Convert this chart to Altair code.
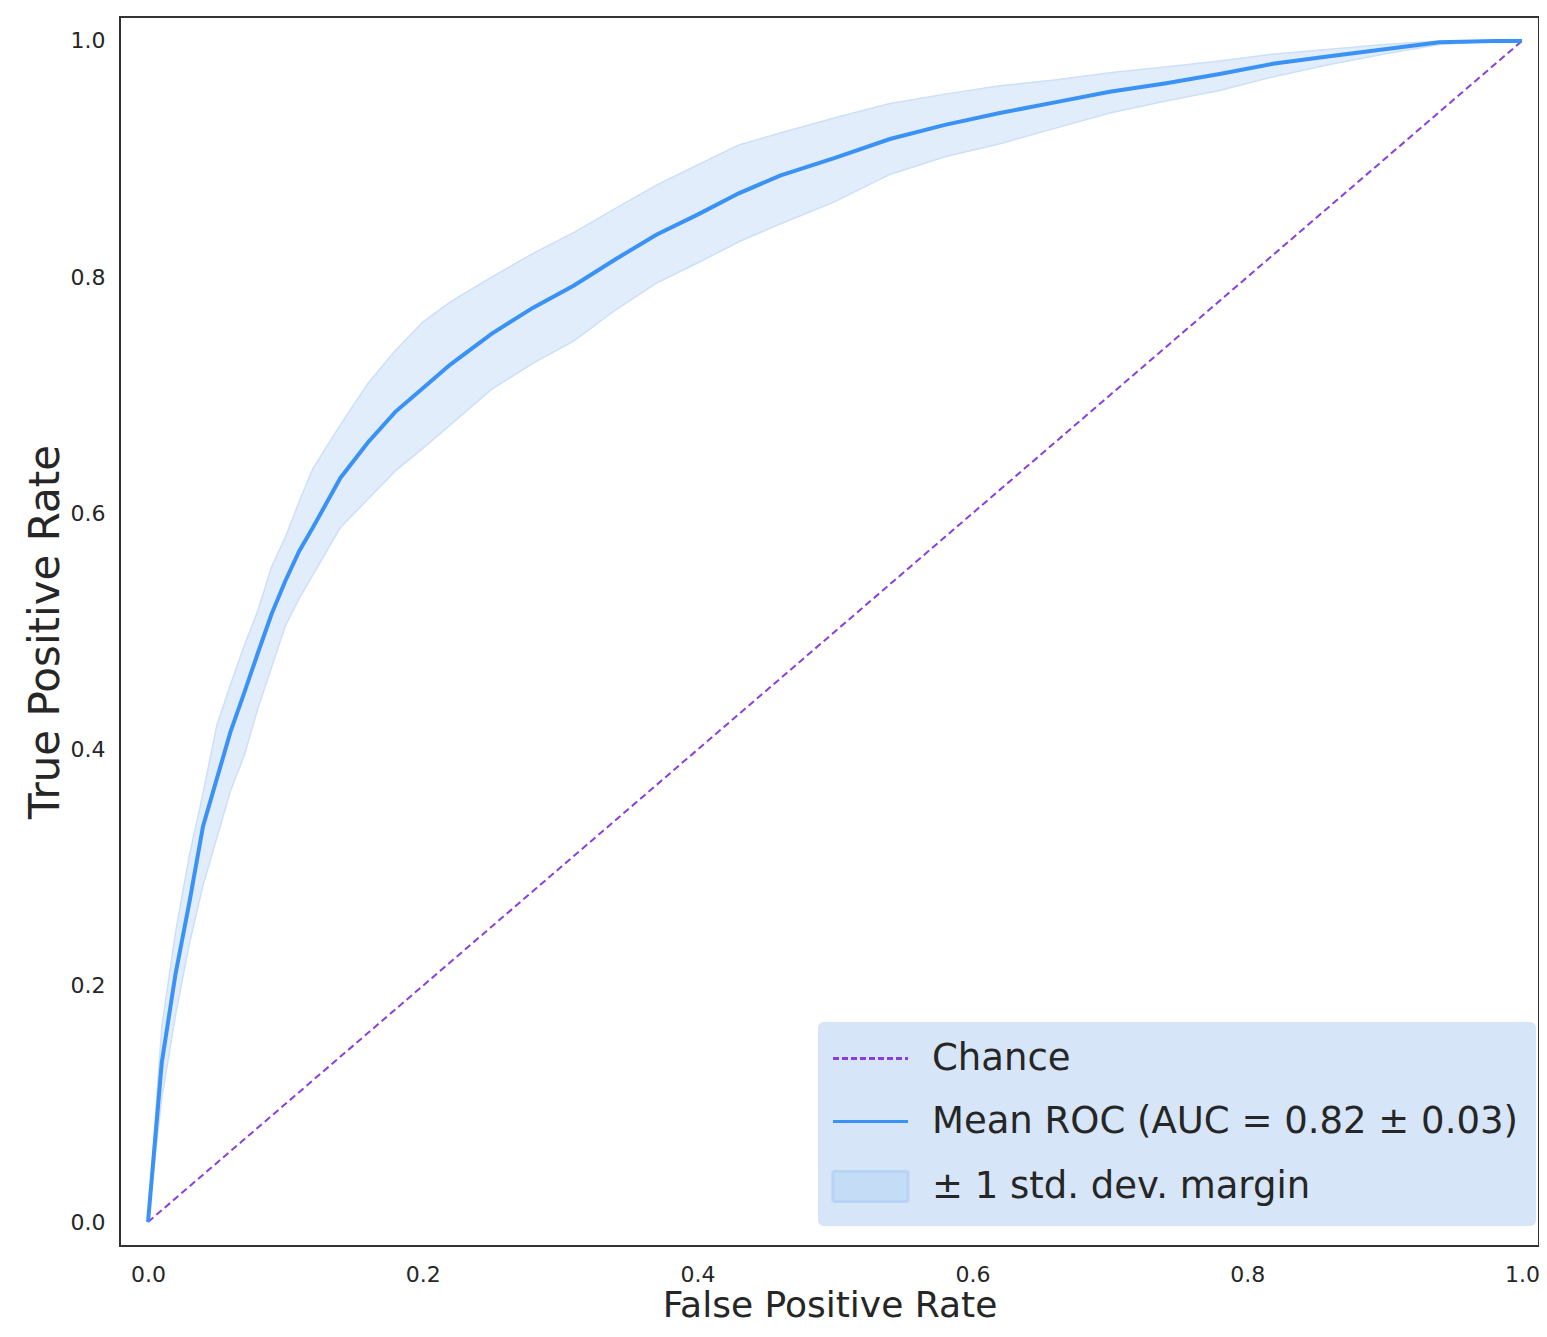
import altair as alt
import pandas as pd

# ---- data ----
fpr = [0.0, 0.01, 0.02, 0.03, 0.04, 0.05, 0.06, 0.07, 0.08, 0.09, 0.10, 0.11, 0.12,
       0.14, 0.16, 0.18, 0.20, 0.22, 0.25, 0.28, 0.31, 0.34, 0.37, 0.40, 0.43, 0.46,
       0.50, 0.54, 0.58, 0.62, 0.66, 0.70, 0.74, 0.78, 0.82, 0.86, 0.90, 0.94, 0.98, 1.0]
tpr_mean = [0.0, 0.135, 0.21, 0.27, 0.335, 0.375, 0.415, 0.448, 0.482, 0.515, 0.543, 0.568, 0.588,
            0.630, 0.660, 0.686, 0.706, 0.726, 0.752, 0.774, 0.793, 0.815, 0.836, 0.853, 0.871, 0.886,
            0.901, 0.917, 0.929, 0.939, 0.948, 0.957, 0.964, 0.972, 0.981, 0.987, 0.993, 0.999, 1.0, 1.0]
tpr_upper = [0.0, 0.165, 0.245, 0.31, 0.363, 0.42, 0.455, 0.488, 0.518, 0.555, 0.58, 0.61, 0.638,
             0.675, 0.71, 0.738, 0.762, 0.779, 0.800, 0.820, 0.838, 0.858, 0.878, 0.895, 0.912, 0.922,
             0.935, 0.947, 0.955, 0.962, 0.967, 0.973, 0.978, 0.983, 0.989, 0.993, 0.997, 1.0, 1.0, 1.0]
tpr_lower = [0.0, 0.105, 0.175, 0.235, 0.285, 0.325, 0.365, 0.395, 0.435, 0.47, 0.505, 0.528, 0.548,
             0.588, 0.612, 0.636, 0.655, 0.675, 0.705, 0.727, 0.746, 0.772, 0.795, 0.812, 0.830, 0.845,
             0.864, 0.887, 0.902, 0.913, 0.926, 0.939, 0.949, 0.958, 0.970, 0.980, 0.989, 0.997, 1.0, 1.0]
chance_x = [0.0, 1.0]
chance_y = [0.0, 1.0]

series_names = ["Chance", "Mean ROC (AUC = 0.82 ± 0.03)", "± 1 std. dev. margin"]
legend_strokes = ["#8a3fdc", "#3a92f6", "#b8d3f3"]
legend_fills = ["transparent", "transparent", "#c4dcf6"]
legend_shapes = ["M-2.5,0H2.5", "M-2.5,0H2.5", "M-2.5,-1H2.5V1H-2.5Z"]
legend_dashes = [[6, 3], [1, 0], [1, 0]]
tick_values = [0.0, 0.2, 0.4, 0.6, 0.8, 1.0]

FONT = "DejaVu Sans"
TXT = "#262626"

roc = pd.DataFrame({"fpr": fpr, "mean": tpr_mean, "upper": tpr_upper, "lower": tpr_lower})
chance = pd.DataFrame({"fpr": chance_x, "tpr": chance_y})
keys = pd.DataFrame({"s": series_names, "fpr": [0.5] * 3, "tpr": [0.5] * 3})

xs = alt.Scale(domain=[-0.0204, 1.0124], nice=False, zero=False)
ys = alt.Scale(domain=[-0.0203, 1.0203], nice=False, zero=False)

x_axis = alt.Axis(values=tick_values, format=".1f", title="False Positive Rate", ticks=False,
                  domain=False, grid=False, labelFontSize=22, labelFont=FONT, labelColor=TXT,
                  labelPadding=18, titleFontSize=36, titleFont=FONT, titleFontWeight="normal",
                  titleColor=TXT, titlePadding=3)
y_axis = alt.Axis(values=tick_values, format=".1f", title="True Positive Rate", ticks=False,
                  domain=False, grid=False, labelFontSize=22, labelFont=FONT, labelColor=TXT,
                  labelPadding=15, titleFontSize=42, titleFont=FONT, titleFontWeight="normal",
                  titleColor=TXT, titlePadding=3)

legend = alt.Legend(
    title=None, orient="none", legendX=698, legendY=1005,
    fillColor="#d6e5f7", cornerRadius=6, padding=18,
    labelFontSize=37, labelFont=FONT, labelColor=TXT, labelOffset=43, labelLimit=800,
    symbolSize=900, symbolStrokeWidth=3, symbolOpacity=1, symbolOffset=16,
    rowPadding=25,
)

band = alt.Chart(roc).mark_area(color="#e1edfb", stroke="#cde0f7", strokeWidth=1.5).encode(
    x=alt.X("fpr:Q", scale=xs, axis=x_axis),
    y=alt.Y("lower:Q", scale=ys, axis=y_axis),
    y2="upper:Q",
)

chance_line = alt.Chart(chance).mark_line(strokeDash=[7, 4], strokeWidth=2, color="#8a3fdc").encode(
    x=alt.X("fpr:Q", scale=xs),
    y=alt.Y("tpr:Q", scale=ys),
)

mean_line = alt.Chart(roc).mark_line(strokeWidth=4, color="#3a92f6").encode(
    x=alt.X("fpr:Q", scale=xs),
    y=alt.Y("mean:Q", scale=ys),
)

key_layer = alt.Chart(keys).mark_point(filled=False).encode(
    x=alt.X("fpr:Q", scale=xs),
    y=alt.Y("tpr:Q", scale=ys),
    stroke=alt.Stroke("s:N", scale=alt.Scale(domain=series_names, range=legend_strokes), legend=legend),
    fill=alt.Fill("s:N", scale=alt.Scale(domain=series_names, range=legend_fills), legend=legend),
    shape=alt.Shape("s:N", scale=alt.Scale(domain=series_names, range=legend_shapes), legend=legend),
    strokeDash=alt.StrokeDash("s:N", scale=alt.Scale(domain=series_names, range=legend_dashes), legend=legend),
).transform_filter("datum.s == 'none'")

chart = alt.layer(band, chance_line, mean_line, key_layer).properties(
    width=1419, height=1229,
    autosize=alt.AutoSizeParams(type="none"),
    padding={"left": 112, "top": 9, "right": 0, "bottom": 83},
    background="white",
).configure_view(stroke="#333333", strokeWidth=2)

chart.save("out.html", embed_options={"renderer": "svg", "actions": False})
